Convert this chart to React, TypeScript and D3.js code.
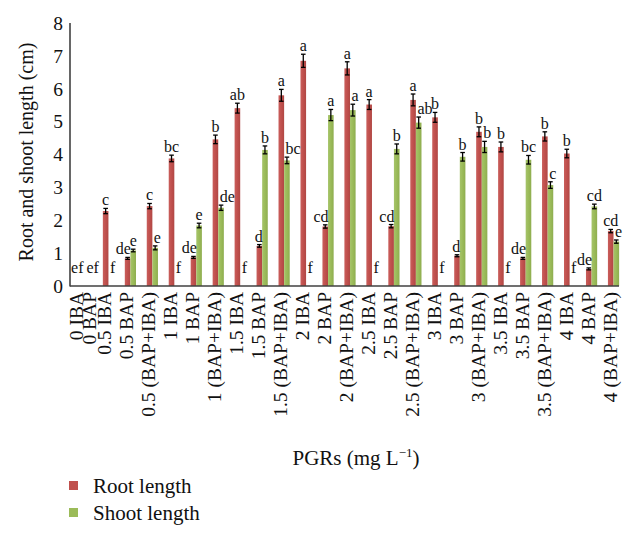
import React from "react";
import * as d3 from "d3";

const categories = [
  "0 IBA\n0 BAP", "0.5 IBA", "0.5 BAP", "0.5 (BAP+IBA)", "1 IBA", "1 BAP", "1 (BAP+IBA)",
  "1.5 IBA", "1.5 BAP", "1.5 (BAP+IBA)", "2 IBA", "2 BAP", "2 (BAP+IBA)",
  "2.5 IBA", "2.5 BAP", "2.5 (BAP+IBA)", "3 IBA", "3 BAP", "3 (BAP+IBA)",
  "3.5 IBA", "3.5 BAP", "3.5 (BAP+IBA)", "4 IBA", "4 BAP", "4 (BAP+IBA)",
];
const rootLength = [0, 2.28, 0.84, 2.43, 3.88, 0.87, 4.46, 5.41, 1.22, 5.8, 6.85, 1.81, 6.62, 5.52, 1.82, 5.66, 5.13, 0.92, 4.69, 4.23, 0.84, 4.55, 4.03, 0.52, 1.67];
const shootLength = [0, 0, 1.08, 1.16, 0, 1.84, 2.38, 0, 4.14, 3.82, 0, 5.2, 5.35, 0, 4.17, 4.97, 0, 3.93, 4.23, 0, 3.84, 3.07, 0, 2.42, 1.35];
const rootErr = [0, 0.08, 0.03, 0.08, 0.1, 0.03, 0.13, 0.15, 0.04, 0.18, 0.2, 0.05, 0.2, 0.15, 0.05, 0.18, 0.15, 0.03, 0.15, 0.15, 0.03, 0.14, 0.13, 0.03, 0.05];
const shootErr = [0, 0, 0.04, 0.06, 0, 0.07, 0.08, 0, 0.12, 0.1, 0, 0.17, 0.18, 0, 0.15, 0.17, 0, 0.13, 0.17, 0, 0.13, 0.1, 0, 0.07, 0.05];
const rootLetters = ["ef", "c", "de", "c", "bc", "de", "b", "ab", "d", "a", "a", "cd", "a", "a", "cd", "a", "b", "d", "b", "b", "de", "b", "b", "de", "cd"];
const shootLetters = ["ef", "f", "e", "e", "f", "e", "de", "f", "b", "bc", "f", "a", "a", "f", "b", "ab", "f", "b", "b", "f", "bc", "c", "f", "cd", "e"];
const yTicks = [0, 1, 2, 3, 4, 5, 6, 7, 8];
const seriesNames = ["Root length", "Shoot length"];

const W = 639, H = 538;
const FONT = "'Liberation Serif', 'Times New Roman', serif";
const RED = "#C0504D", GREEN = "#9BBB59";
const AXIS = "#404040";

export default function App() {
  const y = d3.scaleLinear().domain([0, 8]).range([286, 23]);
  const x = d3.scaleBand<string>().domain(categories).range([75.5, 624.5]).padding(0);
  const barW = 5.6;
  const cx = (c: string) => (x(c) as number) + x.bandwidth() / 2;
  const axisLeft = 70, axisRight = 619;

  const labelFor = (i: number, series: 0 | 1) => {
    const c = categories[i];
    const v = series === 0 ? rootLength[i] : shootLength[i];
    const e = series === 0 ? rootErr[i] : shootErr[i];
    const ov = series === 0 ? shootLength[i] + shootErr[i] : rootLength[i] + rootErr[i];
    const text = series === 0 ? rootLetters[i] : shootLetters[i];
    const c0 = cx(c);
    let lx: number, anchor: string;
    if (v === 0 && ov === 0) {
      if (series === 0) { lx = c0 - 3; anchor = "end"; } else { lx = c0; anchor = "start"; }
    } else if (ov > v + e) {
      if (series === 0) { lx = c0 + 0.5; anchor = "end"; } else { lx = c0 + 1.5; anchor = "start"; }
    } else {
      lx = series === 0 ? c0 - barW / 2 : c0 + barW / 2;
      anchor = "middle";
    }
    const ly = v === 0 ? 273 : y(v + e) - 3;
    return (
      <text key={`l${series}-${i}`} x={lx} y={ly} textAnchor={anchor} fontSize={16} fontFamily={FONT} fill="#111">
        {text}
      </text>
    );
  };

  return (
    <svg width={W} height={H} style={{ position: "absolute", left: 0, top: 0, background: "#fff" }}>
      <defs>
        <linearGradient id="gRed" x1="0" x2="1" y1="0" y2="0">
          <stop offset="0" stopColor="#C95E5B" />
          <stop offset="0.5" stopColor="#C0504D" />
          <stop offset="1" stopColor="#B04744" />
        </linearGradient>
        <linearGradient id="gGreen" x1="0" x2="1" y1="0" y2="0">
          <stop offset="0" stopColor="#A6C46A" />
          <stop offset="0.5" stopColor="#9BBB59" />
          <stop offset="1" stopColor="#8EAD4F" />
        </linearGradient>
      </defs>

      {categories.map((c, i) => (
        <g key={`b${i}`}>
          {rootLength[i] > 0 && (
            <rect x={cx(c) - barW} y={y(rootLength[i])} width={barW} height={y(0) - y(rootLength[i])} fill="url(#gRed)" />
          )}
          {shootLength[i] > 0 && (
            <rect x={cx(c)} y={y(shootLength[i])} width={barW} height={y(0) - y(shootLength[i])} fill="url(#gGreen)" />
          )}
        </g>
      ))}

      {categories.map((c, i) => {
        const items: JSX.Element[] = [];
        const pairs: [number, number, number][] = [
          [rootLength[i], rootErr[i], cx(c) - barW / 2],
          [shootLength[i], shootErr[i], cx(c) + barW / 2],
        ];
        pairs.forEach(([v, e, ex], k) => {
          if (v <= 0) return;
          const y1 = y(v + e), y2 = y(Math.max(0, v - e));
          items.push(
            <g key={`e${i}-${k}`} stroke="#000" strokeWidth={1.3}>
              <line x1={ex} x2={ex} y1={y1} y2={y2} />
              <line x1={ex - 2.3} x2={ex + 2.3} y1={y1} y2={y1} />
              <line x1={ex - 2.3} x2={ex + 2.3} y1={y2} y2={y2} />
            </g>
          );
        });
        return items;
      })}

      {categories.map((_, i) => [labelFor(i, 0), labelFor(i, 1)])}

      <line x1={axisLeft} x2={axisLeft} y1={y(8)} y2={y(0) + 0.5} stroke={AXIS} strokeWidth={1.6} />
      <line x1={axisLeft} x2={axisRight} y1={y(0)} y2={y(0)} stroke={AXIS} strokeWidth={1.6} />

      {yTicks.map((t) => (
        <text key={`yt${t}`} x={63} y={y(t)} dy="0.35em" textAnchor="end" fontSize={19.5} fontFamily={FONT} fill="#111">
          {t}
        </text>
      ))}

      {categories.map((c) => {
        const lines = c.split("\n");
        const base = cx(c) + 3;
        return lines.map((ln, j) => (
          <text
            key={`xt${c}-${j}`}
            transform={`translate(${base + (j - (lines.length - 1) / 2) * 13.5},292) rotate(-90)`}
            textAnchor="end"
            fontSize={19.5}
            fontFamily={FONT}
            fill="#111"
          >
            {ln}
          </text>
        ));
      })}

      <text transform="translate(33,152) rotate(-90)" textAnchor="middle" fontSize={20} fontFamily={FONT} fill="#111">
        Root and shoot length (cm)
      </text>

      <text x={356} y={465} textAnchor="middle" fontSize={21} fontFamily={FONT} fill="#111">
        PGRs (mg L<tspan dy={-8} fontSize={13}>−1</tspan><tspan dy={8}>)</tspan>
      </text>

      {seriesNames.map((s, k) => (
        <g key={`lg${k}`}>
          <rect x={69} y={481 + k * 27} width={9} height={9} fill={k === 0 ? RED : GREEN} />
          <text x={93} y={493 + k * 27} fontSize={21} fontFamily={FONT} fill="#111">
            {s}
          </text>
        </g>
      ))}
    </svg>
  );
}
